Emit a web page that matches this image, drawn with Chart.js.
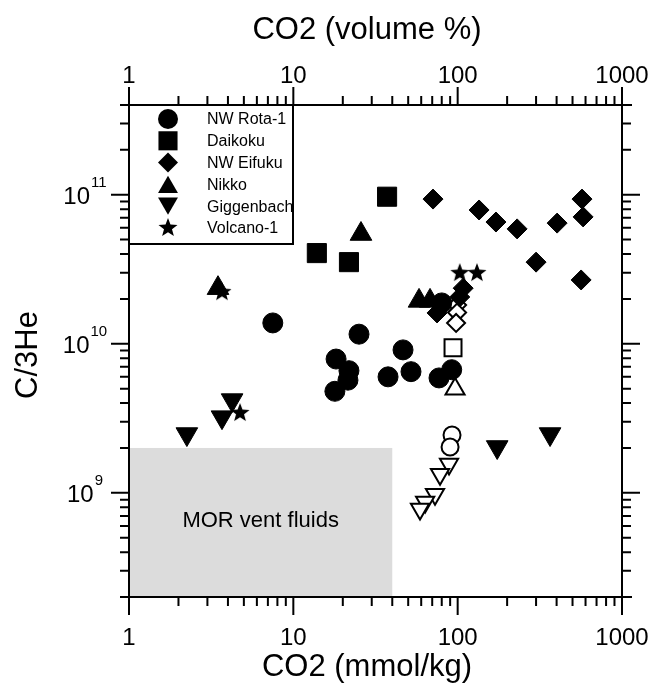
<!DOCTYPE html>
<html>
<head>
<meta charset="utf-8">
<script src="https://cdn.jsdelivr.net/npm/chart.js@4.4.1/dist/chart.umd.min.js"></script>
<style>
  html, body { margin: 0; padding: 0; background: #fff; }
  #wrap { width: 655px; height: 685px; }
</style>
</head>
<body>
<div id="wrap"><canvas id="chart" width="655" height="685"></canvas></div>
<script>
// CO2 (mmol/kg) vs C/3He -- filled = measured samples, open = second set
const nwRota1 = [[7.5, 1.38e10], [25.1, 1.16e10], [18.2, 7.9e9], [21.8, 6.6e9], [21.5, 5.7e9],
  [17.9, 4.8e9], [46.5, 9.1e9], [37.7, 6.0e9], [52, 6.5e9], [77, 5.9e9], [92, 6.7e9], [80, 1.88e10]];
const nwRota1Open = [[92.4, 2.44e9], [89.9, 2.03e9]];

const daikoku = [[37.2, 9.7e10], [13.9, 4.06e10], [21.8, 3.53e10]];
const daikokuOpen = [[93.7, 9.4e9]];

const nwEifuku = [[70.8, 9.35e10], [135, 7.9e10], [171, 6.56e10], [230, 5.9e10], [403, 6.45e10],
  [571, 9.35e10], [580, 7.1e10], [300, 3.53e10], [564, 2.68e10], [108, 2.36e10], [103, 2.06e10], [74.9, 1.61e10]];
const nwEifukuOpen = [[99.2, 1.82e10], [99.2, 1.62e10], [97.8, 1.38e10]];

const nikko = [[25.8, 5.45e10], [3.48, 2.36e10], [58.2, 1.94e10], [67.9, 1.94e10]];
const nikkoOpen = [[96.4, 4.97e9]];

const giggenbach = [[4.24, 4.19e9], [3.68, 3.22e9], [2.25, 2.48e9], [174, 2.03e9], [365, 2.48e9]];
const giggenbachOpen = [[88.6, 1.56e9], [78.1, 1.33e9], [72.8, 9.8e8], [63.4, 8.67e8], [59.0, 7.78e8]];

const volcano1 = [[3.68, 2.22e10], [4.74, 3.43e9], [103, 2.98e10], [131, 2.98e10]];

const legendLabels = ['NW Rota-1', 'Daikoku', 'NW Eifuku', 'Nikko', 'Giggenbach', 'Volcano-1'];

const xTickValues = [1, 10, 100, 1000];
const xTickLabels = ['1', '10', '100', '1000'];
const yTickExponents = [9, 10, 11];

// MOR vent fluid field
const morCO2Max = 40;
const morC3HeMax = 2e9;

const FONT = '"Liberation Sans", Arial, sans-serif';

function toXY(arr) {
  return arr.map(p => ({ x: p[0], y: p[1] }));
}

function starImage(R) {
  const c = document.createElement('canvas');
  c.width = c.height = Math.ceil(2 * R + 2);
  const g = c.getContext('2d');
  const cx = c.width / 2, cy = c.height / 2;
  g.beginPath();
  for (let i = 0; i < 10; i++) {
    const r = i % 2 === 0 ? R : R * 0.42;
    const a = -Math.PI / 2 + i * Math.PI / 5;
    const px = cx + r * Math.cos(a), py = cy + r * Math.sin(a);
    if (i === 0) g.moveTo(px, py); else g.lineTo(px, py);
  }
  g.closePath();
  g.fillStyle = '#000';
  g.fill();
  return c;
}

const star = starImage(10);

function filled(label, data, style, radius, extra) {
  return Object.assign({
    label: label,
    data: toXY(data),
    pointStyle: style,
    pointRadius: radius,
    backgroundColor: '#000',
    borderColor: '#000',
    borderWidth: 1
  }, extra || {});
}

function open(label, data, style, radius, extra) {
  return Object.assign({
    label: label,
    data: toXY(data),
    pointStyle: style,
    pointRadius: radius,
    backgroundColor: '#fff',
    borderColor: '#000',
    borderWidth: 2
  }, extra || {});
}

const datasets = [
  filled('NW Rota-1', nwRota1, 'circle', 10),
  open('NW Rota-1 (open)', nwRota1Open, 'circle', 8.5),
  filled('Daikoku', daikoku, 'rect', 13.5),
  open('Daikoku (open)', daikokuOpen, 'rect', 12),
  filled('NW Eifuku', nwEifuku, 'rectRot', 10),
  open('NW Eifuku (open)', nwEifukuOpen, 'rectRot', 9),
  filled('Nikko', nikko, 'triangle', 12.5),
  open('Nikko (open)', nikkoOpen, 'triangle', 11),
  filled('Giggenbach', giggenbach, 'triangle', 12.5, { pointRotation: 180 }),
  open('Giggenbach (open)', giggenbachOpen, 'triangle', 10.5, { pointRotation: 180 }),
  filled('Volcano-1', volcano1, star, 10, { borderWidth: 0 })
];

// marker for the legend box
function drawMarker(ctx, style, x, y, r, rot) {
  if (style instanceof HTMLCanvasElement) {
    ctx.drawImage(style, x - style.width / 2, y - style.height / 2);
    return;
  }
  ctx.beginPath();
  if (style === 'circle') {
    ctx.arc(x, y, r, 0, Math.PI * 2);
  } else if (style === 'rect') {
    const h = r * Math.SQRT1_2;
    ctx.rect(x - h, y - h, 2 * h, 2 * h);
  } else if (style === 'rectRot') {
    ctx.moveTo(x, y - r); ctx.lineTo(x + r, y); ctx.lineTo(x, y + r); ctx.lineTo(x - r, y);
  } else if (style === 'triangle') {
    const s = rot ? -1 : 1;
    const yc = y + s * r / 4;
    ctx.moveTo(x, yc - s * r);
    ctx.lineTo(x + r * 0.866, yc + s * r / 2);
    ctx.lineTo(x - r * 0.866, yc + s * r / 2);
  }
  ctx.closePath();
  ctx.fill();
}

const framePlugin = {
  id: 'frame',
  beforeDatasetsDraw(chart) {
    const ctx = chart.ctx;
    const xs = chart.scales.x, ys = chart.scales.y;
    const x0 = xs.getPixelForValue(1), x1 = xs.getPixelForValue(morCO2Max);
    const y0 = ys.getPixelForValue(morC3HeMax), y1 = chart.chartArea.bottom;
    ctx.save();
    ctx.fillStyle = '#dcdcdc';
    ctx.fillRect(x0, y0, x1 - x0, y1 - y0);
    ctx.fillStyle = '#000';
    ctx.font = '22px ' + FONT;
    ctx.textAlign = 'center';
    ctx.textBaseline = 'middle';
    ctx.fillText('MOR vent fluids', (x0 + x1) / 2, (y0 + y1) / 2 - 2);
    ctx.restore();
  },
  afterDatasetsDraw(chart) {
    const ctx = chart.ctx;
    const a = chart.chartArea;
    const xs = chart.scales.x, ys = chart.scales.y;
    ctx.save();
    ctx.strokeStyle = '#000';
    ctx.fillStyle = '#000';
    ctx.lineWidth = 2;
    ctx.lineCap = 'butt';

    // frame lines, a little past the corners
    ctx.beginPath();
    ctx.moveTo(a.left - 8, a.top); ctx.lineTo(a.right + 10, a.top);
    ctx.moveTo(a.left - 8, a.bottom); ctx.lineTo(a.right + 10, a.bottom);
    ctx.moveTo(a.left, a.top - 8); ctx.lineTo(a.left, a.bottom + 8);
    ctx.moveTo(a.right, a.top - 10); ctx.lineTo(a.right, a.bottom + 8);
    ctx.stroke();

    // x ticks (bottom + top)
    ctx.beginPath();
    for (let d = 1; d <= 1000; d *= 10) {
      for (let m = 1; m <= 9; m++) {
        const v = d * m;
        if (v > 1000) break;
        const px = xs.getPixelForValue(v);
        const len = m === 1 ? 18 : 9;
        ctx.moveTo(px, a.bottom); ctx.lineTo(px, a.bottom + len);
        ctx.moveTo(px, a.top); ctx.lineTo(px, a.top - len);
      }
    }
    // y ticks (left + right)
    for (let d = 1e8; d <= 1e11; d *= 10) {
      for (let m = 1; m <= 9; m++) {
        const v = d * m;
        if (v < 2e8 || v > 4e11) continue;
        const py = ys.getPixelForValue(v);
        const len = m === 1 ? 18 : 9;
        ctx.moveTo(a.left, py); ctx.lineTo(a.left - len, py);
        ctx.moveTo(a.right, py); ctx.lineTo(a.right + len, py);
      }
    }
    ctx.stroke();

    // x tick labels
    ctx.font = '24px ' + FONT;
    ctx.textAlign = 'center';
    ctx.textBaseline = 'middle';
    xTickValues.forEach((v, i) => {
      const px = xs.getPixelForValue(v);
      ctx.fillText(xTickLabels[i], px, 638);
      ctx.fillText(xTickLabels[i], px, 76);
    });

    // y tick labels 10^n
    yTickExponents.forEach(e => {
      const py = ys.getPixelForValue(Math.pow(10, e));
      ctx.font = '24px ' + FONT;
      const wb = ctx.measureText('10').width;
      ctx.font = '15px ' + FONT;
      const we = ctx.measureText(String(e)).width;
      const start = 85 - (wb + 1 + we) / 2;
      ctx.textAlign = 'left';
      ctx.font = '24px ' + FONT;
      ctx.fillText('10', start, py + 3);
      ctx.font = '15px ' + FONT;
      ctx.fillText(String(e), start + wb + 1, py - 12);
    });

    // axis titles
    ctx.font = '31px ' + FONT;
    ctx.textAlign = 'center';
    ctx.textBaseline = 'middle';
    ctx.fillText('CO2 (mmol/kg)', 367, 667);
    ctx.fillText('CO2 (volume %)', 367, 30);
    ctx.save();
    ctx.translate(28, 355);
    ctx.rotate(-Math.PI / 2);
    ctx.fillText('C/3He', 0, 0);
    ctx.restore();

    // legend box
    const lx = a.left, ly = a.top, lw = 164, lh = 139;
    ctx.fillStyle = '#fff';
    ctx.fillRect(lx, ly, lw, lh);
    ctx.strokeRect(lx, ly, lw, lh);
    ctx.fillStyle = '#000';
    const legendStyles = [
      ['circle', 10, false], ['rect', 13.5, false], ['rectRot', 10, false],
      ['triangle', 11.5, false], ['triangle', 11.5, true], [star, 10, false]
    ];
    ctx.font = '16px ' + FONT;
    ctx.textAlign = 'left';
    legendLabels.forEach((lab, i) => {
      const yy = 119 + i * 21.8;
      const st = legendStyles[i];
      drawMarker(ctx, st[0], 168, yy, st[1], st[2]);
      ctx.fillText(lab, 207, yy + 1);
    });
    ctx.restore();
  }
};

function logScale(position, min, max, size) {
  return {
    type: 'logarithmic',
    position: position,
    axis: (position === 'top' || position === 'bottom') ? 'x' : 'y',
    min: min,
    max: max,
    grid: { display: false },
    border: { display: false },
    ticks: { display: false },
    afterFit: s => {
      if (position === 'top' || position === 'bottom') s.height = size; else s.width = size;
    }
  };
}

new Chart(document.getElementById('chart').getContext('2d'), {
  type: 'scatter',
  data: { datasets: datasets },
  options: {
    responsive: false,
    animation: false,
    events: [],
    layout: { padding: 0 },
    scales: {
      x: logScale('bottom', 1, 1000, 88),
      x2: logScale('top', 1, 1000, 105),
      y: logScale('left', 2e8, 4e11, 129),
      y2: logScale('right', 2e8, 4e11, 33)
    },
    plugins: {
      legend: { display: false },
      tooltip: { enabled: false }
    }
  },
  plugins: [framePlugin]
});
</script>
</body>
</html>
